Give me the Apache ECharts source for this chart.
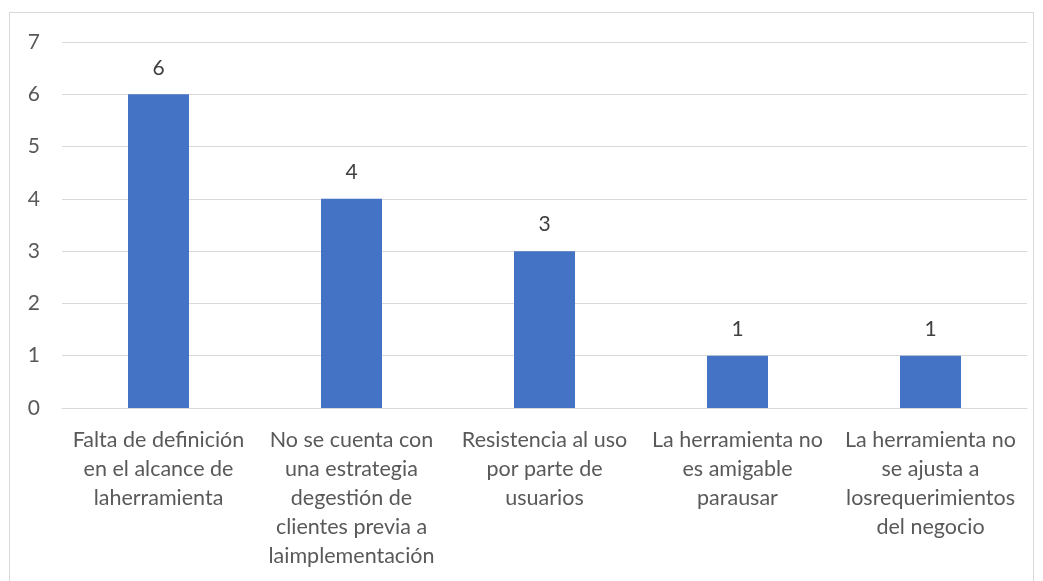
<!DOCTYPE html>
<html>
<head>
<meta charset="utf-8">
<script src="https://cdn.jsdelivr.net/npm/echarts@6/dist/echarts.min.js"></script>
<style>
  html, body { margin: 0; padding: 0; background: #fff; }
  #frame { position: absolute; left: 9px; top: 12px; width: 1025px; height: 600px; border: 1px solid #d9d9d9; box-sizing: border-box; }
  #chart { position: absolute; left: 0; top: 0; width: 1043px; height: 581px; }
</style>
</head>
<body>
<div id="frame"></div>
<div id="chart"></div>
<script>
// Categories (line breaks as laid out under each bar)
const categories = [
  "Falta de definición\nen el alcance de\nlaherramienta",
  "No se cuenta con\nuna estrategia\ndegestión de\nclientes previa a\nlaimplementación",
  "Resistencia al uso\npor parte de\nusuarios",
  "La herramienta no\nes amigable\nparausar",
  "La herramienta no\nse ajusta a\nlosrequerimientos\ndel negocio"
];
// Count per category
const counts = [6, 4, 3, 1, 1];
const yTicks = [0, 1, 2, 3, 4, 5, 6, 7];

const font = "Lato, Open Sans, sans-serif";
const chart = echarts.init(document.getElementById('chart'), null, { renderer: 'canvas' });
chart.setOption({
  animation: false,
  grid: { left: 62, right: 16, top: 42, bottom: 173, containLabel: false },
  xAxis: {
    type: 'category',
    data: categories,
    axisLine: { lineStyle: { color: '#d9d9d9', width: 1 } },
    axisTick: { show: false },
    axisLabel: {
      interval: 0,
      color: '#595959',
      fontFamily: font,
      fontSize: 21.5,
      lineHeight: 29,
      margin: 18,
      align: 'center'
    }
  },
  yAxis: {
    type: 'value',
    min: yTicks[0],
    max: yTicks[yTicks.length - 1],
    interval: 1,
    axisLine: { show: false },
    axisTick: { show: false },
    splitLine: { lineStyle: { color: '#d9d9d9', width: 1 } },
    axisLabel: {
      color: '#595959',
      fontFamily: font,
      fontSize: 21,
      margin: 22
    }
  },
  series: [{
    type: 'bar',
    data: counts,
    barWidth: 61,
    itemStyle: { color: '#4472c4' },
    label: {
      show: true,
      position: 'top',
      distance: 16,
      color: '#404040',
      fontFamily: font,
      fontSize: 21
    }
  }]
});
</script>
</body>
</html>
